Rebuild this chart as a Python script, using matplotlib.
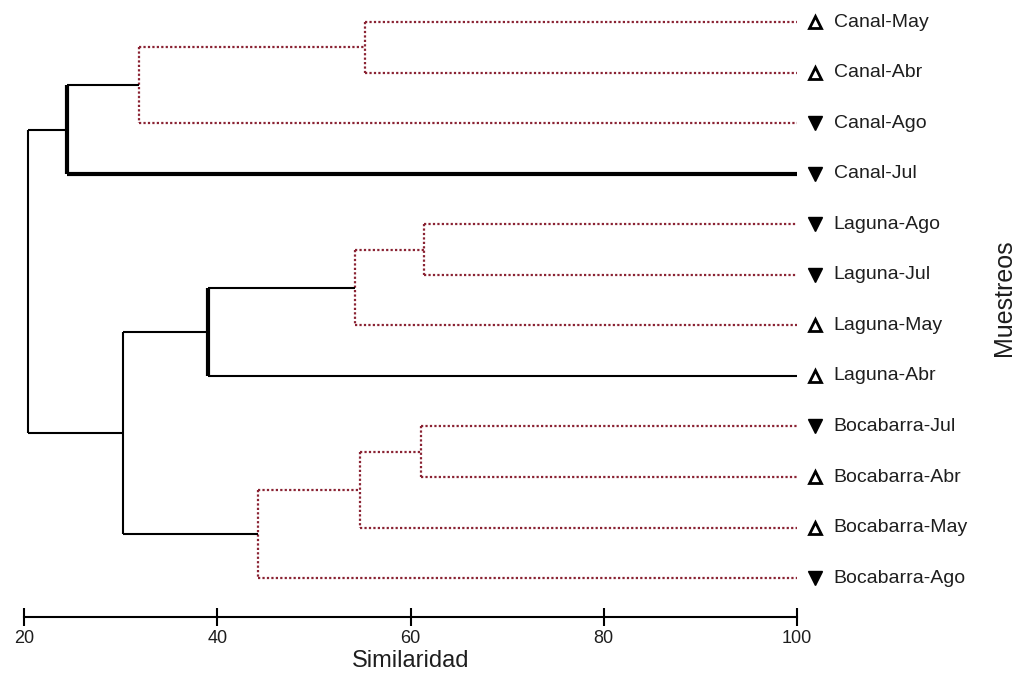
import matplotlib.pyplot as plt

plt.rcParams['font.family'] = ['Liberation Sans', 'DejaVu Sans']

# hojas (de arriba a abajo)
leaves = ['Canal-May', 'Canal-Abr', 'Canal-Ago', 'Canal-Jul',
          'Laguna-Ago', 'Laguna-Jul', 'Laguna-May', 'Laguna-Abr',
          'Bocabarra-Jul', 'Bocabarra-Abr', 'Bocabarra-May', 'Bocabarra-Ago']
# abril/mayo = triangulo abierto, julio/agosto = triangulo lleno
season = ['seca', 'seca', 'lluvia', 'lluvia',
          'lluvia', 'lluvia', 'seca', 'seca',
          'lluvia', 'seca', 'seca', 'lluvia']

# uniones: nodos nuevos numerados desde 12
merge_a = [0, 12, 13, 4, 15, 16, 8, 18, 19, 17, 14]
merge_b = [1, 2, 3, 5, 6, 7, 9, 10, 11, 20, 21]
similarity = [55.3, 31.9, 24.4, 61.4, 54.3, 39.0, 61.1, 54.8, 44.2, 30.2, 20.4]
in_group = [True, True, False, True, True, False, True, True, True, False, False]

RED = '#8a2333'

fig = plt.figure(figsize=(10.16, 6.82), dpi=100)
ax = fig.add_axes([24 / 1016, (682 - 617) / 682, 773 / 1016, 615 / 682])

n = len(leaves)
pos_y = {i: i for i in range(n)}
pos_x = {i: 100.0 for i in range(n)}
thick_nodes = {14, 17}

for k, (a, b, s, grp) in enumerate(zip(merge_a, merge_b, similarity, in_group)):
    node = n + k
    ya, yb = pos_y[a], pos_y[b]
    if grp:
        kw = dict(color=RED, ls=(0, (1, 1)), lw=1.6)
    else:
        kw = dict(color='black', ls='-', lw=1.5)
    vkw = dict(kw)
    if node in thick_nodes:
        vkw['lw'] = 3
    ax.plot([s, s], [ya, yb], solid_capstyle='butt', **vkw)
    for c in (a, b):
        hkw = dict(kw)
        if node == 14 and c == 3:
            hkw['lw'] = 3
        ax.plot([s, pos_x[c]], [pos_y[c], pos_y[c]], solid_capstyle='butt', **hkw)
    pos_y[node] = (ya + yb) / 2
    pos_x[node] = s

for i, (lab, sea) in enumerate(zip(leaves, season)):
    if sea == 'seca':
        ax.plot(101.9, i, marker='^', ms=9, mfc='white', mec='black', mew=2,
                clip_on=False)
    else:
        ax.plot(101.9, i, marker='v', ms=10, color='black', clip_on=False)
    ax.text(103.8, i, lab, va='center', ha='left', fontsize=14, color='#1e1e1e',
            clip_on=False)

ax.set_xlim(20, 100)
ax.set_ylim(11.77, -0.4)
for side in ['top', 'right', 'left']:
    ax.spines[side].set_visible(False)
ax.spines['bottom'].set_linewidth(1.5)
ax.set_yticks([])
ax.set_xticks([20, 40, 60, 80, 100])
ax.tick_params(axis='x', direction='inout', length=13, width=1.5, pad=3,
               labelsize=13, labelcolor='#1e1e1e')
ax.set_xlabel('Similaridad', fontsize=17, labelpad=2, color='#1e1e1e')

fig.text(1004 / 1016, 1 - 298 / 682, 'Muestreos', rotation=90, ha='center',
         va='center', fontsize=18, color='#1e1e1e')

fig.savefig('out.png', dpi=100)
